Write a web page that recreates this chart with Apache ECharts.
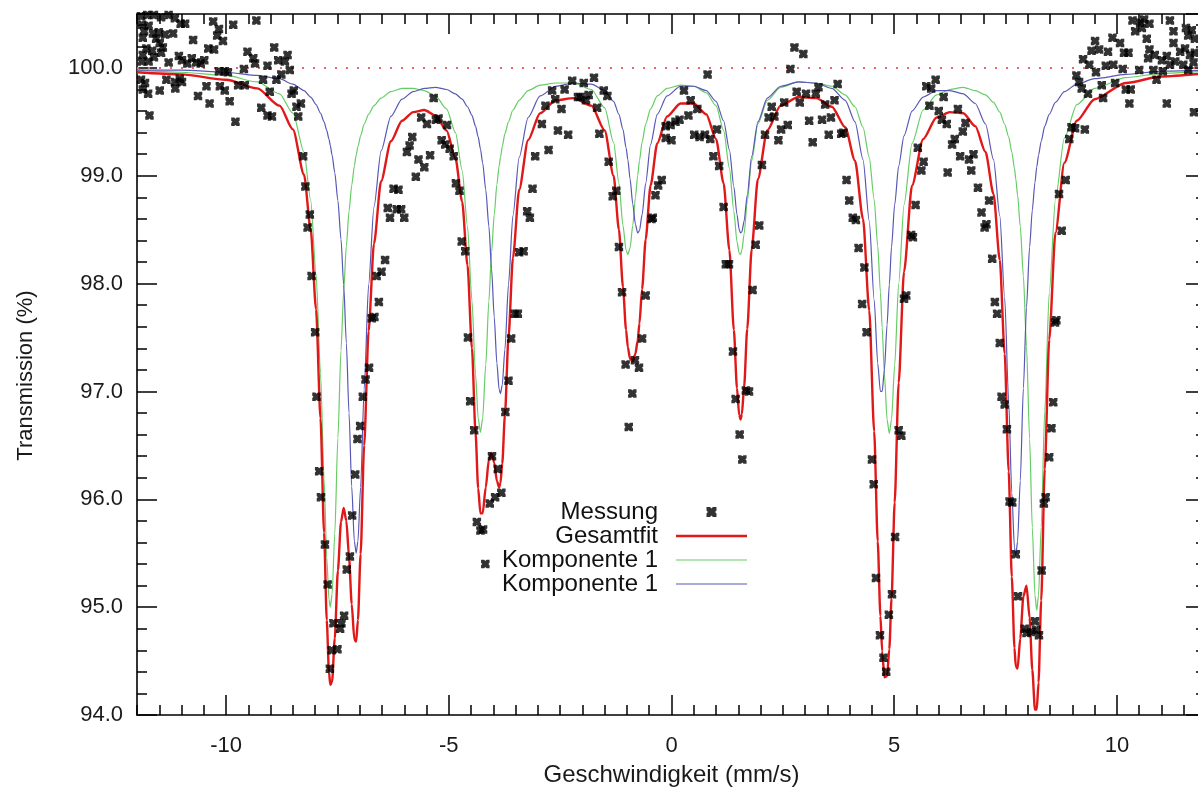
<!DOCTYPE html>
<html>
<head>
<meta charset="utf-8">
<script src="https://cdn.jsdelivr.net/npm/echarts@6/dist/echarts.min.js"></script>
<style>
  html, body { margin: 0; padding: 0; background: #ffffff; }
  #chart { width: 1198px; height: 787px; }
</style>
</head>
<body>
<div id="chart"></div>
<script>
const FONT = '"Liberation Sans", Arial, Helvetica, sans-serif';

// Velocity grid on which the fitted curves are listed (mm/s)
const fitVelocity = [-12,-11,-10,-9.3,-8.8,-8.5,-8.25,-8.1,-7.98,-7.88,-7.8,-7.74,-7.69,-7.66,-7.62,-7.56,-7.49,-7.42,-7.36,-7.3,-7.24,-7.18,-7.12,-7.08,-7.04,-6.98,-6.9,-6.8,-6.68,-6.52,-6.3,-6.05,-5.8,-5.55,-5.3,-5.05,-4.85,-4.7,-4.58,-4.48,-4.4,-4.34,-4.29,-4.24,-4.17,-4.1,-4.04,-3.98,-3.92,-3.87,-3.84,-3.8,-3.74,-3.66,-3.56,-3.42,-3.22,-2.95,-2.6,-2.2,-1.8,-1.5,-1.3,-1.18,-1.09,-1.02,-0.98,-0.93,-0.87,-0.81,-0.76,-0.72,-0.66,-0.58,-0.47,-0.32,-0.1,0.2,0.5,0.78,1.0,1.17,1.3,1.4,1.47,1.52,1.55,1.58,1.63,1.7,1.8,1.94,2.15,2.45,2.85,3.25,3.6,3.9,4.12,4.3,4.44,4.55,4.63,4.69,4.73,4.78,4.84,4.89,4.94,5.01,5.1,5.22,5.4,5.65,5.95,6.25,6.55,6.82,7.05,7.23,7.37,7.48,7.57,7.64,7.7,7.73,7.77,7.83,7.9,7.97,8.04,8.1,8.16,8.2,8.24,8.3,8.38,8.48,8.62,8.82,9.1,9.5,10.2,11,12];

// Total fit (Gesamtfit), transmission in %
const fitTotal = [99.96,99.94,99.89,99.81,99.65,99.43,99.01,98.50,97.76,96.75,95.69,94.88,94.40,94.28,94.31,94.71,95.34,95.79,95.92,95.80,95.47,95.03,94.70,94.68,94.88,95.49,96.50,97.56,98.37,98.95,99.32,99.51,99.59,99.61,99.56,99.42,99.16,98.76,98.17,97.40,96.62,96.10,95.87,95.87,96.11,96.37,96.43,96.34,96.17,96.11,96.15,96.33,96.78,97.50,98.24,98.87,99.33,99.58,99.70,99.72,99.65,99.42,99.00,98.50,97.97,97.57,97.41,97.30,97.28,97.35,97.47,97.63,97.95,98.41,98.91,99.30,99.55,99.67,99.67,99.57,99.34,98.93,98.31,97.57,97.03,96.78,96.74,96.79,97.04,97.58,98.32,98.97,99.42,99.65,99.73,99.72,99.64,99.45,99.14,98.60,97.75,96.63,95.61,94.92,94.59,94.35,94.36,94.61,95.08,95.97,97.08,98.11,98.91,99.34,99.54,99.59,99.58,99.46,99.22,98.83,98.22,97.35,96.26,95.28,94.62,94.45,94.43,94.71,95.10,95.20,94.90,94.42,94.05,94.05,94.30,95.06,96.28,97.48,98.47,99.12,99.51,99.71,99.86,99.92,99.95];

// First sextet component (green)
const fitComp1 = [99.98,99.96,99.93,99.87,99.76,99.58,99.22,98.77,98.09,97.17,96.19,95.46,95.07,95.00,95.12,95.68,96.57,97.38,97.93,98.35,98.67,98.91,99.09,99.19,99.27,99.37,99.48,99.57,99.65,99.72,99.78,99.81,99.81,99.79,99.74,99.62,99.40,99.05,98.53,97.84,97.16,96.75,96.62,96.75,97.25,97.84,98.29,98.64,98.92,99.09,99.17,99.27,99.39,99.50,99.61,99.70,99.79,99.84,99.86,99.86,99.80,99.63,99.31,98.93,98.54,98.31,98.27,98.33,98.54,98.80,99.00,99.14,99.31,99.48,99.62,99.74,99.81,99.84,99.83,99.77,99.65,99.42,99.07,98.67,98.39,98.28,98.27,98.31,98.46,98.76,99.14,99.48,99.70,99.82,99.87,99.86,99.83,99.75,99.64,99.45,99.17,98.78,98.35,97.92,97.59,97.16,96.74,96.61,96.74,97.24,98.00,98.73,99.30,99.61,99.75,99.80,99.82,99.79,99.75,99.68,99.59,99.48,99.36,99.22,99.07,98.97,98.82,98.53,98.07,97.42,96.56,95.74,95.11,94.97,95.11,95.74,96.82,97.91,98.78,99.35,99.66,99.81,99.91,99.95,99.97];

// Second sextet component (blue)
const fitComp2 = [99.98,99.98,99.96,99.93,99.90,99.85,99.79,99.73,99.66,99.58,99.50,99.42,99.34,99.28,99.19,99.03,98.77,98.41,97.99,97.45,96.80,96.12,95.61,95.50,95.61,96.11,97.02,97.99,98.71,99.23,99.55,99.71,99.78,99.81,99.82,99.80,99.76,99.71,99.64,99.56,99.46,99.36,99.25,99.12,98.87,98.53,98.14,97.69,97.26,97.02,96.98,97.06,97.39,97.99,98.63,99.17,99.54,99.74,99.83,99.86,99.85,99.79,99.69,99.57,99.43,99.26,99.15,98.97,98.74,98.55,98.47,98.49,98.64,98.93,99.29,99.57,99.74,99.83,99.83,99.79,99.69,99.51,99.24,98.90,98.64,98.50,98.47,98.48,98.58,98.82,99.18,99.50,99.72,99.83,99.87,99.86,99.81,99.70,99.50,99.15,98.58,97.85,97.26,97.00,97.00,97.20,97.62,97.99,98.34,98.73,99.09,99.37,99.60,99.73,99.79,99.79,99.76,99.67,99.48,99.15,98.63,97.87,96.91,96.06,95.55,95.48,95.61,96.17,97.03,97.78,98.34,98.68,98.94,99.08,99.19,99.32,99.46,99.57,99.68,99.78,99.85,99.90,99.94,99.97,99.98];

// Measured spectrum: [velocity (mm/s), transmission (%)]
const measured = [
  [-11.91,100.48],[-11.77,100.49],[-11.62,100.49],[-11.46,100.47],[-11.29,100.49],[-11.15,100.46],[-11.02,100.41],[-10.92,100.41],
  [-11.89,100.40],[-11.84,100.34],[-11.74,100.39],[-11.64,100.32],[-11.87,100.28],[-11.51,100.33],[-11.37,100.31],[-11.19,100.32],
  [-11.57,100.27],[-11.49,100.23],[-11.42,100.19],[-11.79,100.18],[-11.66,100.16],[-11.87,100.12],[-11.89,100.06],[-11.74,100.06],
  [-11.62,100.10],[-11.46,100.14],[-11.29,100.05],[-11.06,100.11],[-10.99,100.07],[-10.87,100.04],[-10.77,100.09],[-10.67,100.05],
  [-10.57,100.04],[-10.49,100.07],[-10.74,100.26],[-10.40,100.18],[-10.27,100.17],[-10.29,100.43],[-10.16,100.36],[-10.20,100.30],
  [-10.07,100.25],[-9.84,100.40],[-9.32,100.44],[-9.52,100.15],[-9.39,100.09],[-9.35,100.04],[-9.07,100.02],[-8.92,100.19],
  [-8.83,100.07],[-8.68,100.06],[-8.62,100.12],[-8.57,99.98],[-8.76,99.94],[-8.87,99.89],[-9.60,99.99],[-9.96,99.96],
  [-10.03,99.97],[-10.16,99.97],[-11.91,99.89],[-11.82,99.86],[-11.87,99.80],[-11.75,99.76],[-11.49,99.79],[-11.34,99.89],
  [-11.15,99.87],[-11.04,99.90],[-10.99,99.87],[-11.14,99.81],[-10.63,99.74],[-10.44,99.83],[-10.37,99.67],[-10.14,99.83],
  [-10.03,99.79],[-9.92,99.69],[-9.79,99.50],[-9.73,99.84],[-9.58,99.84],[-9.21,99.63],[-9.17,99.89],[-9.07,99.56],
  [-8.97,99.55],[-9.02,99.78],[-8.53,99.76],[-8.48,99.79],[-8.42,99.64],[-8.38,99.55],[-8.32,99.67],[-11.72,99.56],
  [-8.27,99.18],[-8.22,98.90],[-8.12,98.64],[-8.17,98.52],[-8.08,98.07],[-8.00,97.55],
  [-7.97,96.95],[-7.91,96.26],[-7.87,96.02],[-7.78,95.58],[-7.72,95.21],[-7.59,94.85],[-7.63,94.60],[-7.67,94.43],[-7.50,94.61],
  [-6.79,97.22],[-6.87,97.11],[-6.93,96.95],[-6.99,96.68],[-7.05,96.56],[-7.10,96.23],[-7.17,95.85],[-7.22,95.47],
  [-7.29,95.35],[-7.35,94.92],[-7.41,94.85],[-7.44,94.80],
  [-4.52,96.91],[-4.43,96.64],[-4.37,95.79],[-4.29,95.71],[-4.23,95.72],[-4.08,95.96],[-3.96,96.02],[-3.82,96.06],
  [-4.03,96.40],[-3.90,96.28],[-3.73,96.81],[-3.66,97.10],[-4.18,95.40],
  [-5.34,99.72],[-5.62,99.54],[-5.49,99.48],[-5.29,99.52],[-5.23,99.53],[-5.04,99.47],[-5.82,99.36],[-5.88,99.28],
  [-5.94,99.22],[-5.68,99.15],[-5.55,99.08],[-5.42,99.19],[-5.74,98.99],[-5.16,99.33],[-5.08,99.29],[-4.98,99.25],
  [-4.89,99.18],[-4.84,98.93],[-4.76,98.86],[-4.71,98.39],[-4.63,98.30],[-4.57,97.50],[-6.24,98.88],[-6.13,98.87],
  [-6.37,98.70],[-6.32,98.61],[-6.17,98.69],[-6.07,98.69],[-6.00,98.61],[-6.43,98.22],[-6.51,98.11],[-6.62,98.07],
  [-6.57,97.83],[-6.67,97.69],[-6.73,97.68],
  [-3.06,99.18],[-3.12,98.88],[-3.24,98.67],[-3.18,98.61],[-3.42,98.29],[-3.32,98.30],[-3.52,97.72],[-3.45,97.72],[-3.60,97.49],
  [-2.23,99.88],[-1.97,99.86],[-1.74,99.91],[-2.40,99.80],[-2.68,99.79],[-2.61,99.71],[-2.83,99.65],[-2.47,99.62],
  [-2.10,99.73],[-2.04,99.73],[-1.86,99.75],[-1.92,99.70],[-1.67,99.63],[-1.52,99.79],[-1.44,99.74],[-2.91,99.48],
  [-2.55,99.42],[-2.32,99.38],[-2.76,99.24],
  [-1.62,99.39],[-1.41,99.13],[-1.24,98.86],[-1.32,98.81],[-1.18,98.34],[-1.11,97.92],[-1.03,97.25],[-0.82,97.29],
  [-0.73,97.22],[-0.88,96.98],[-0.96,96.67],[-0.66,97.49],[-0.58,97.89],[-0.45,98.60],[-0.42,98.61],[-0.36,98.82],
  [-0.30,98.91],[-0.22,98.96],[-0.13,99.35],[0.00,99.33],[-0.13,99.46],[-0.02,99.47],[0.09,99.50],[0.18,99.52],
  [0.28,99.79],[0.38,99.56],[0.43,99.70],[0.58,99.62],[0.51,99.38],[0.63,99.36],[0.75,99.38],[0.87,99.34],
  [0.81,99.94],[1.02,99.43],[0.94,99.18],[1.07,99.09],[1.17,98.71],[1.22,98.18],[1.29,98.18],[1.38,97.37],
  [1.44,96.93],[1.53,96.60],[1.59,96.37],[1.67,97.01],
  [2.76,100.19],[2.96,100.13],[2.67,99.99],[2.81,99.78],[2.88,99.68],[3.02,99.76],[3.24,99.76],[3.30,99.82],
  [3.73,99.85],[3.66,99.70],[3.45,99.66],[2.53,99.68],[2.25,99.64],[2.18,99.54],[2.31,99.55],[2.61,99.47],
  [2.46,99.43],[2.10,99.38],[2.40,99.33],[3.09,99.51],[3.38,99.52],[3.58,99.54],[3.17,99.31],[3.53,99.38],
  [3.81,99.39],[3.86,99.40],[2.03,99.10],[1.97,98.54],[1.89,98.36],[1.82,97.94],[3.93,98.96],[3.99,98.77],
  [4.07,98.61],[4.14,98.59],[4.20,98.33],[4.33,98.15],[4.28,97.81],[4.38,97.55],
  [5.72,99.83],[5.83,99.81],[5.93,99.89],[6.11,99.73],[5.79,99.65],[6.00,99.60],[6.07,99.52],[6.18,99.48],
  [5.53,99.26],[5.66,99.13],[5.61,99.05],[6.20,99.03],[5.48,98.73],[5.38,98.45],[5.42,98.43],[5.27,97.89],[5.22,97.86],
  [1.74,97.00],[4.50,96.37],[4.54,96.14],[4.59,95.27],[4.68,94.74],[4.76,94.53],[4.82,94.40],[4.88,94.93],
  [4.95,95.12],[5.02,95.65],[5.10,96.64],[5.16,96.59],
  [10.35,100.44],[10.52,100.42],[10.61,100.45],[10.73,100.41],[10.41,100.34],[10.56,100.37],[11.19,100.44],[11.27,100.34],
  [11.55,100.37],[11.68,100.35],[11.60,100.30],[11.75,100.27],[9.90,100.28],[10.07,100.23],[9.51,100.25],[9.43,100.16],
  [9.60,100.17],[9.80,100.15],[10.16,100.14],[10.26,100.14],[10.67,100.27],[10.73,100.17],[10.85,100.12],[10.70,100.09],
  [11.01,100.07],[11.12,100.11],[11.27,100.23],[11.42,100.15],[11.53,100.18],[11.64,100.12],[11.75,100.14],[11.31,100.06],
  [11.19,100.03],[11.49,100.03],[11.72,100.05],[9.24,100.08],[9.38,100.03],[9.53,99.96],[9.75,100.02],[9.92,100.03],
  [10.13,99.99],[10.50,99.98],[10.82,99.98],[11.03,99.97],[10.89,99.89],[11.60,99.98],[11.12,99.67],[11.73,99.59],
  [9.09,99.93],[9.15,99.87],[9.21,99.81],[9.35,99.76],[9.66,99.84],[9.69,99.72],[9.96,99.86],[10.20,99.80],
  [10.31,99.80],[10.28,99.67],[8.98,99.45],[9.06,99.44],[9.28,99.43],[8.93,99.34],[8.85,98.96],[8.70,98.83],
  [8.76,98.49],[8.64,97.66],[8.61,97.64],
  [6.43,99.62],[6.60,99.49],[6.54,99.41],[6.36,99.34],[6.30,99.29],[6.48,99.18],[6.68,99.15],[6.78,99.20],
  [6.73,99.05],[6.88,98.89],[7.13,98.77],[6.96,98.66],[7.07,98.55],[7.03,98.52],[7.20,98.23],[7.26,97.83],
  [7.31,97.72],[7.37,97.45],
  [7.41,96.95],[7.48,96.88],[7.53,96.65],[7.59,95.98],[7.65,95.97],[7.73,95.49],[7.78,95.10],[7.93,94.80],
  [7.97,94.76],[8.16,94.87],[8.19,94.79],[8.25,94.74],[8.08,94.77],[8.31,95.34],[8.36,95.96],[8.40,96.02],
  [8.48,96.39],[8.53,96.66],[8.57,96.90]
];

// Axis ticks and legend entries
const xMajorTicks = [-10, -5, 0, 5, 10];
const baselineLevel = 100;
const legendText = {
  'Messung': 'Messung',
  'Gesamtfit': 'Gesamtfit',
  'Komponente 1 (A)': 'Komponente 1',
  'Komponente 1 (B)': 'Komponente 1'
};

const curve = (ys) => fitVelocity.map((v, i) => [v, ys[i]]);

// filled square with shallow notches, used for the measured points
const markerPath = 'path://M0,0H3.6L5,1.4L6.4,0H10V3.6L8.6,5L10,6.4V10H6.4L5,8.6L3.6,10H0V6.4L1.4,5L0,3.6Z';

const lineCol = { color: '#000', width: 1.5 };
const noLabel = { show: false };
const noSplit = { show: false };

function xAxisDef(position, major, withLabels) {
  const ax = {
    type: 'value', position: position, min: -12, max: 12,
    axisLine: { show: !major, onZero: false, lineStyle: { color: '#000', width: 1.6 } },
    axisTick: { show: true, inside: true, length: major ? 20 : 10, lineStyle: lineCol },
    axisLabel: noLabel,
    splitLine: noSplit
  };
  if (major) {
    ax.axisTick.customValues = xMajorTicks;
  } else {
    ax.interval = 0.5;
  }
  if (withLabels) {
    ax.axisLabel = {
      show: true, margin: 20, fontSize: 22, color: '#1a1a1a', fontFamily: FONT,
      formatter: (v) => (Math.abs(v % 5) < 1e-9 ? String(v) : '')
    };
    ax.name = 'Geschwindigkeit (mm/s)';
    ax.nameLocation = 'middle';
    ax.nameGap = 48;
    ax.nameTextStyle = { fontSize: 24, color: '#1a1a1a', fontFamily: FONT };
  }
  return ax;
}

function yAxisDef(position, major, withLabels) {
  const ax = {
    type: 'value', position: position, min: 94, max: 100.5,
    interval: major ? 1 : 0.2,
    axisLine: { show: !major, onZero: false, lineStyle: { color: '#000', width: 1.6 } },
    axisTick: { show: true, inside: true, length: major ? 20 : 10, lineStyle: lineCol },
    axisLabel: noLabel,
    splitLine: noSplit
  };
  if (withLabels) {
    ax.axisLabel = {
      show: true, margin: 14, fontSize: 22, color: '#1a1a1a', fontFamily: FONT,
      formatter: (v) => (Math.abs(v - Math.round(v)) < 1e-6 ? v.toFixed(1) : '')
    };
    ax.name = 'Transmission (%)';
    ax.nameLocation = 'middle';
    ax.nameGap = 100;
    ax.nameTextStyle = { fontSize: 22, color: '#1a1a1a', fontFamily: FONT, padding: [0, 22, 0, 0] };
  }
  return ax;
}

const chart = echarts.init(document.getElementById('chart'), null, { renderer: 'canvas' });

chart.setOption({
  animation: false,
  backgroundColor: '#ffffff',
  textStyle: { fontFamily: FONT },
  grid: { left: 137, top: 14, width: 1069, height: 701, containLabel: false, outerBoundsMode: 'none' },
  xAxis: [
    xAxisDef('bottom', false, true),
    xAxisDef('bottom', true, false),
    xAxisDef('top', false, false),
    xAxisDef('top', true, false)
  ],
  yAxis: [
    yAxisDef('left', false, false),
    yAxisDef('left', true, true),
    yAxisDef('right', false, false),
    yAxisDef('right', true, false)
  ],
  legend: {
    data: [
      { name: 'Messung' },
      { name: 'Gesamtfit', icon: 'path://M0,0H71V2.4H0Z' },
      { name: 'Komponente 1 (A)', icon: 'path://M0,0H71V1.2H0Z' },
      { name: 'Komponente 1 (B)', icon: 'path://M0,0H71V1.2H0Z' }
    ],
    orient: 'vertical',
    align: 'right',
    right: 451,
    top: 500,
    padding: 0,
    itemGap: 0,
    itemWidth: 71,
    itemHeight: 10,
    selectedMode: false,
    formatter: (name) => legendText[name],
    textStyle: { fontSize: 24, fontFamily: FONT, color: '#111', lineHeight: 24, padding: [0, 13, 0, 0] }
  },
  series: [
    {
      name: 'Komponente 1 (A)', type: 'line', xAxisIndex: 0, yAxisIndex: 0,
      data: curve(fitComp1), showSymbol: false, symbol: 'none',
      smooth: 0.25, smoothMonotone: 'x',
      color: '#66cc66', lineStyle: { color: '#66cc66', width: 1.2 }, z: 2
    },
    {
      name: 'Komponente 1 (B)', type: 'line', xAxisIndex: 0, yAxisIndex: 0,
      data: curve(fitComp2), showSymbol: false, symbol: 'none',
      smooth: 0.25, smoothMonotone: 'x',
      color: '#5757b5', lineStyle: { color: '#5757b5', width: 1.2 }, z: 2
    },
    {
      name: 'Gesamtfit', type: 'line', xAxisIndex: 0, yAxisIndex: 0,
      data: curve(fitTotal), showSymbol: false, symbol: 'none',
      smooth: 0.25, smoothMonotone: 'x',
      color: '#e01818', lineStyle: { color: '#e01818', width: 2.4 }, z: 3,
      markLine: {
        silent: true, symbol: ['none', 'none'], label: { show: false },
        lineStyle: { color: '#e46a6a', width: 2, type: [2, 9] },
        data: [{ yAxis: baselineLevel }]
      }
    },
    {
      name: 'Messung', type: 'scatter', xAxisIndex: 0, yAxisIndex: 0,
      data: measured, symbol: markerPath, symbolSize: 8.5,
      itemStyle: { color: '#000' }, color: '#000', z: 5
    }
  ]
});
</script>
</body>
</html>
